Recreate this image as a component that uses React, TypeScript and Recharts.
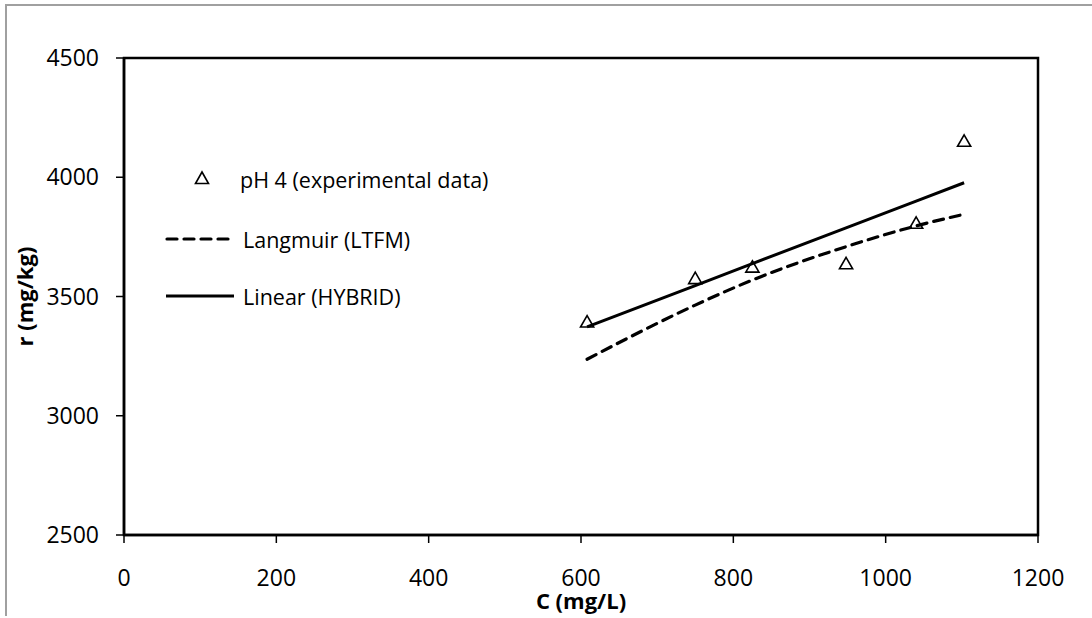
import {
  ComposedChart,
  Line,
  Scatter,
  XAxis,
  YAxis,
  ZAxis,
  Legend,
  Label,
  ReferenceArea,
} from "recharts";

// concentration C (mg/L) of each measurement
const cValues = [608, 750, 825, 948, 1040, 1103];
// measured uptake r (mg/kg) at pH 4
const experimental = [3388, 3570, 3618, 3632, 3802, 4146];
// model curves evaluated at the same concentrations
const langmuirFit = [3237, 3464, 3569, 3709, 3796, 3845];
const linearFit = [3373, 3546, 3638, 3788, 3900, 3977];

const xTicks = [0, 200, 400, 600, 800, 1000, 1200];
const yTicks = [2500, 3000, 3500, 4000, 4500];

const FONT = "'Open Sans', 'Noto Sans', sans-serif";

const toPoints = (values: number[]) => cValues.map((c, i) => ({ c, r: values[i] }));

const expData = toPoints(experimental);
const langmuirData = toPoints(langmuirFit);
const linearData = toPoints(linearFit);

function LegendBox() {
  const textStyle = { fontFamily: FONT, fontSize: 21.5, fill: "#000" };
  return (
    <svg width={420} height={170}>
      <path d="M52,22 L45.5,33.5 L58.5,33.5 Z" fill="none" stroke="#000" strokeWidth={1.6} />
      <text x={90} y={29} dominantBaseline="central" style={textStyle}>
        pH 4 (experimental data)
      </text>
      <line x1={17} x2={82} y1={89} y2={89} stroke="#000" strokeWidth={3.2} strokeDasharray="10 7" strokeLinecap="round" />
      <text x={93} y={89} dominantBaseline="central" style={textStyle}>
        Langmuir (LTFM)
      </text>
      <line x1={16} x2={84} y1={146} y2={146} stroke="#000" strokeWidth={3} />
      <text x={93} y={146} dominantBaseline="central" style={textStyle}>
        Linear (HYBRID)
      </text>
    </svg>
  );
}

export default function App() {
  const tick = { fontFamily: FONT, fontSize: 23, fill: "#000" };
  return (
    <div style={{ position: "absolute", left: 0, top: 0, width: 1092, height: 618, background: "#fff", overflow: "hidden" }}>
      <div
        style={{
          position: "absolute",
          left: 5,
          top: 4,
          width: 1100,
          height: 610,
          borderLeft: "2px solid #a0a0a0",
          borderTop: "2px solid #a0a0a0",
        }}
      />
      <ComposedChart width={1092} height={618} margin={{ top: 58, right: 54, bottom: 0, left: 0 }}>
        <XAxis
          type="number"
          dataKey="c"
          domain={[0, 1200]}
          ticks={xTicks}
          height={83}
          tickSize={8}
          tickMargin={27}
          tick={tick}
          axisLine={{ stroke: "#000", strokeWidth: 2.5 }}
          tickLine={{ stroke: "#000", strokeWidth: 1.5 }}
          allowDataOverflow
        >
          <Label
            content={({ viewBox }: any) => (
              <text
                x={viewBox.x + viewBox.width / 2}
                y={609}
                textAnchor="middle"
                style={{ fontFamily: FONT, fontSize: 22, fontWeight: 700, fill: "#000" }}
              >
                C (mg/L)
              </text>
            )}
          />
        </XAxis>
        <YAxis
          type="number"
          dataKey="r"
          domain={[2500, 4500]}
          ticks={yTicks}
          width={124}
          tickSize={8}
          tickMargin={17}
          tick={tick}
          axisLine={{ stroke: "#000", strokeWidth: 2.5 }}
          tickLine={{ stroke: "#000", strokeWidth: 1.5 }}
          allowDataOverflow
        >
          <Label
            content={({ viewBox }: any) => {
              const cy = viewBox.y + viewBox.height / 2;
              return (
                <text
                  x={33}
                  y={cy}
                  textAnchor="middle"
                  transform={`rotate(-90, 33, ${cy})`}
                  style={{ fontFamily: FONT, fontSize: 22, fontWeight: 700, fill: "#000" }}
                >
                  r (mg/kg)
                </text>
              );
            }}
          />
        </YAxis>
        <ZAxis range={[75, 75]} />
        <ReferenceArea x1={0} x2={1200} y1={2500} y2={4500} fill="none" fillOpacity={0} stroke="#000" strokeWidth={2.5} />
        <Legend
          layout="vertical"
          align="center"
          verticalAlign="middle"
          wrapperStyle={{ left: 150, top: 150, width: 420 }}
          content={() => <LegendBox />}
        />
        <Line
          data={langmuirData}
          dataKey="r"
          type="monotone"
          stroke="#000"
          strokeWidth={3.2}
          strokeDasharray="10 7"
          strokeLinecap="round"
          dot={false}
          activeDot={false}
          isAnimationActive={false}
        />
        <Line
          data={linearData}
          dataKey="r"
          type="linear"
          stroke="#000"
          strokeWidth={3}
          dot={false}
          activeDot={false}
          isAnimationActive={false}
        />
        <Scatter
          data={expData}
          dataKey="r"
          shape="triangle"
          fill="none"
          stroke="#000"
          strokeWidth={1.6}
          isAnimationActive={false}
        />
      </ComposedChart>
    </div>
  );
}
